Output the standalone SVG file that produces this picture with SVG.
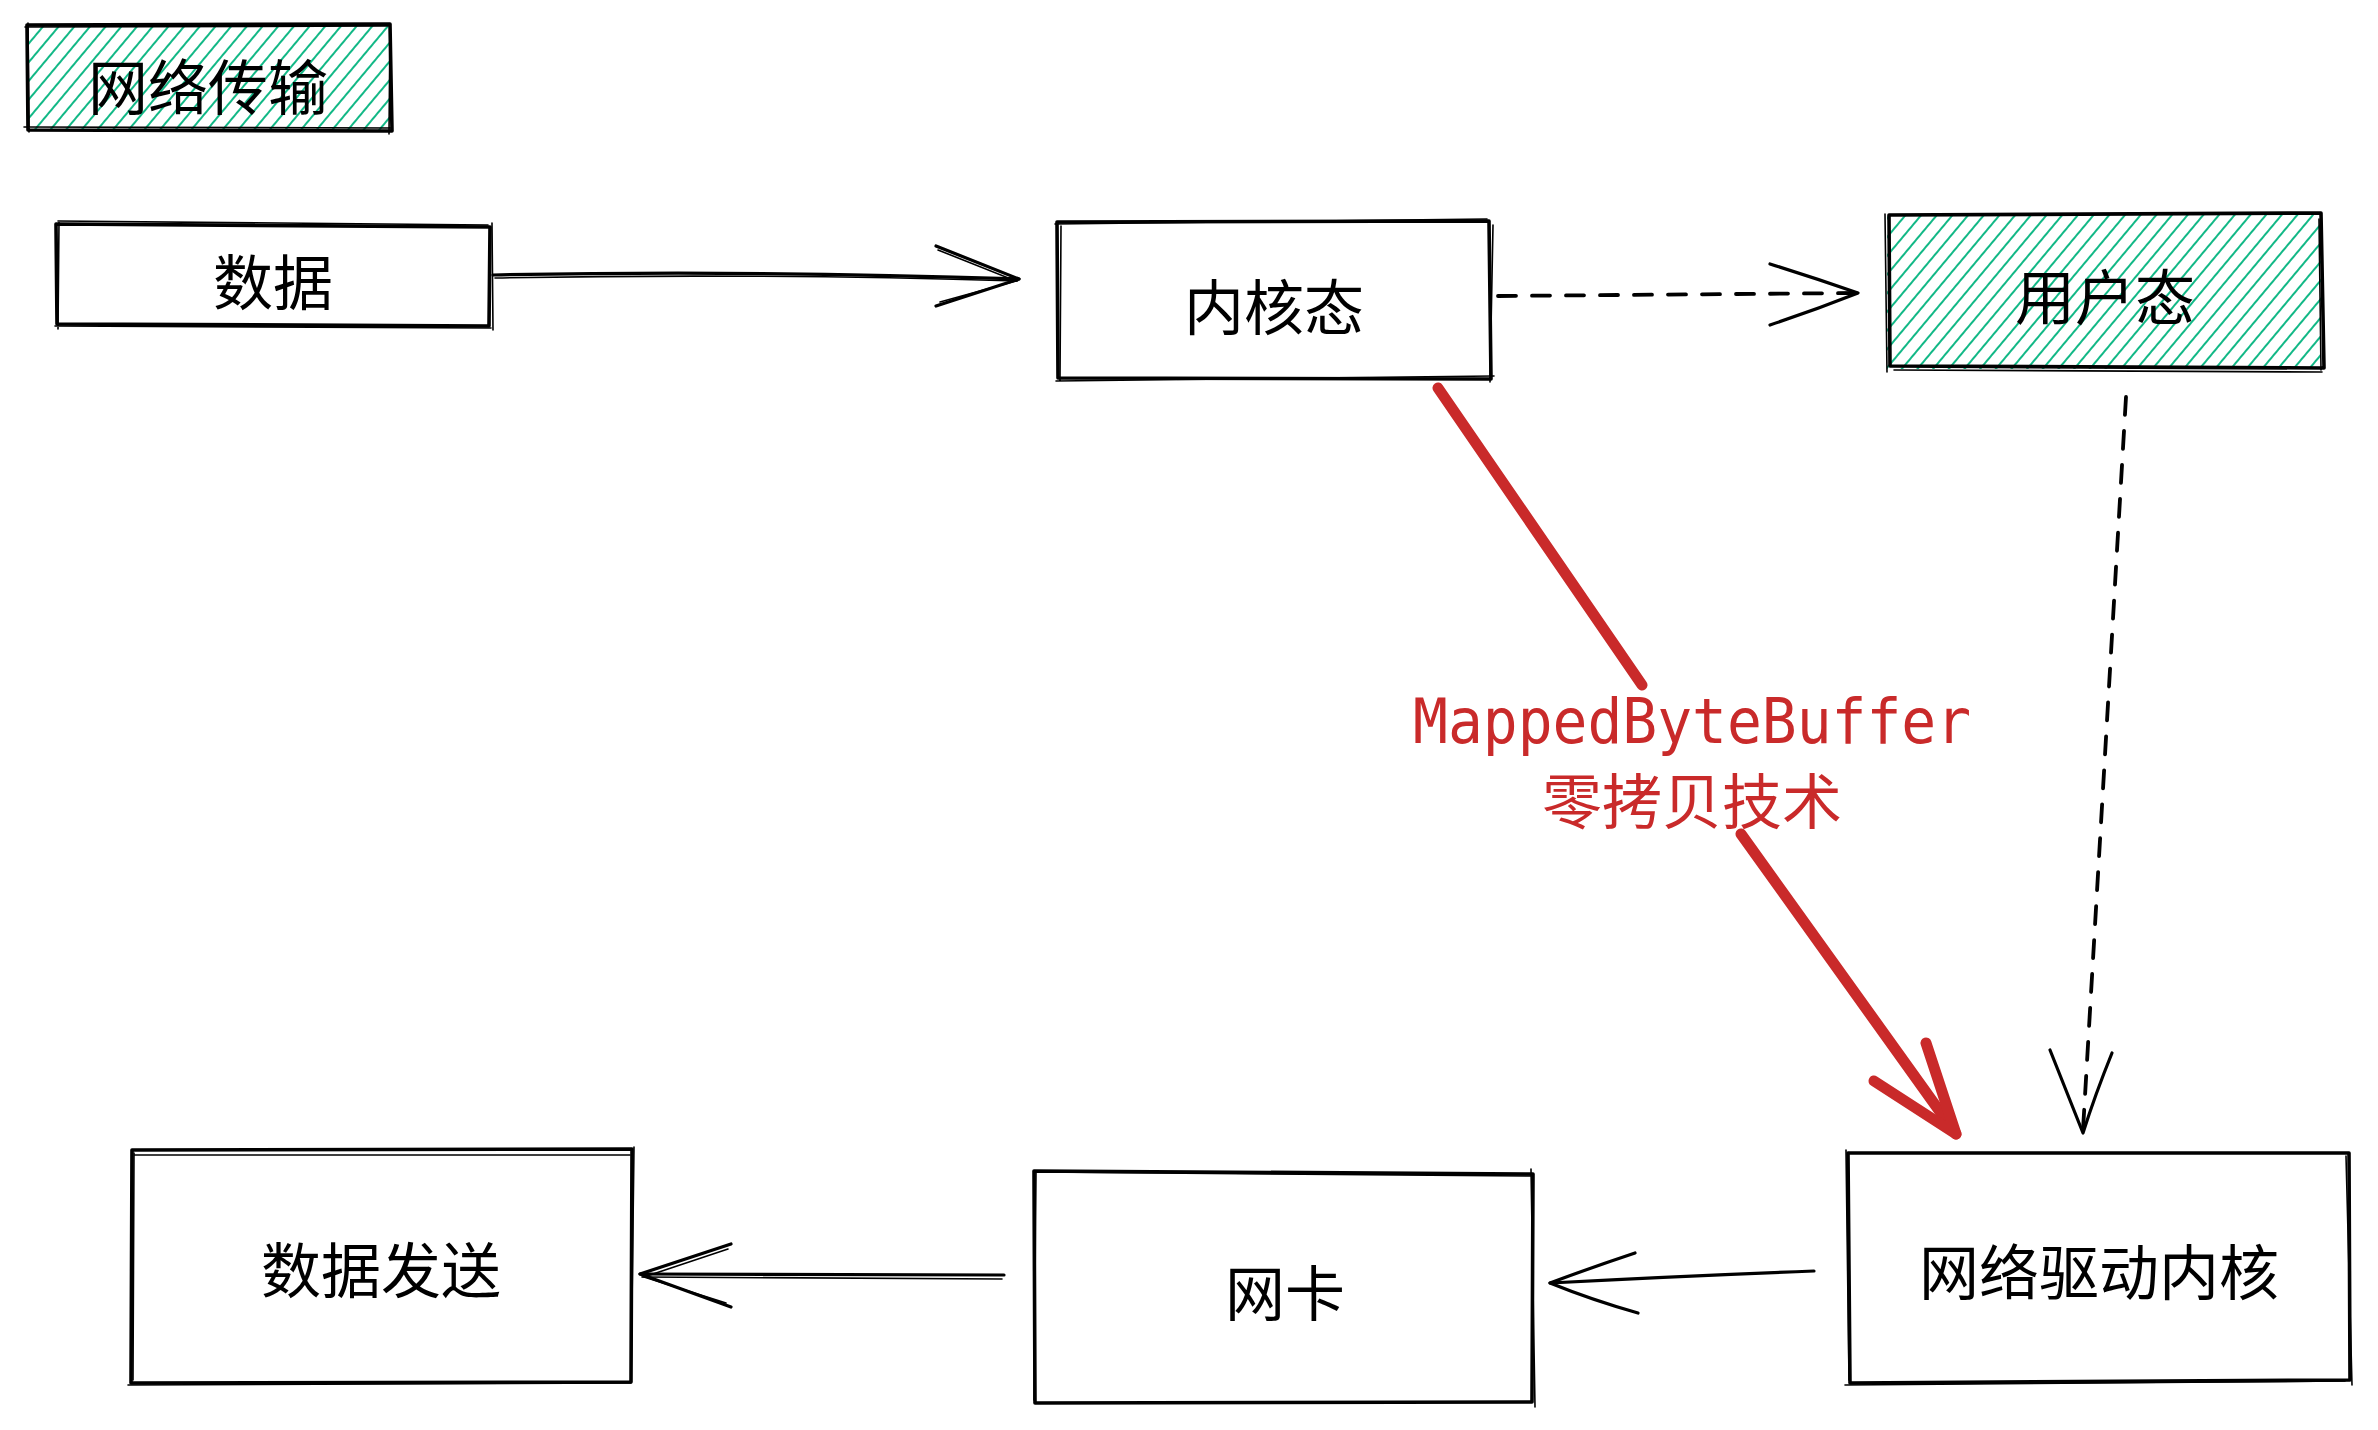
<svg xmlns="http://www.w3.org/2000/svg" width="2378" height="1430" viewBox="0 0 2378 1430">
<defs>
<pattern id="hatch" patternUnits="userSpaceOnUse" width="12" height="12" patternTransform="rotate(40)">
<line x1="2" y1="-2" x2="2" y2="14" stroke="#12b886" stroke-width="2"/>
</pattern>
<style>
.box{fill:none;stroke:#000;stroke-width:3.6;stroke-linecap:round;stroke-linejoin:round}
.box2{fill:none;stroke:#000;stroke-width:1.6;stroke-linecap:round}
.lbl{font-family:"Noto Sans CJK SC","Noto Sans",sans-serif;font-size:60px;fill:#000;text-anchor:middle;dominant-baseline:central}
.con{fill:none;stroke:#000;stroke-width:3.2;stroke-linecap:round;stroke-linejoin:round}
.dash{stroke-dasharray:18 16;stroke-width:3.8}
.red{fill:none;stroke:#c92a2a;stroke-width:11;stroke-linecap:round;stroke-linejoin:round}
.rlbl{fill:#c92a2a;text-anchor:middle}
</style>
</defs>
<rect width="2378" height="1430" fill="#fff"/>

<g id="title">
<rect x="27" y="25" width="363" height="105" fill="url(#hatch)"/>
<path class="box" d="M27,25 L390,24 L392,131 L28,130 Z"/>
<path class="box2" d="M25,27 L388,26 M390,28 L389,134 M392,128 L24,127 M29,132 L28,23"/>
<text class="lbl" x="208" y="83">网络传输</text>
</g>

<g id="data">
<path class="box" d="M56,224 L490,227 L489,326 L57,324 Z"/>
<path class="box2" d="M58,221 L488,225 M492,223 L493,330 M491,328 L55,326 M58,329 L59,222"/>
<text class="lbl" x="273" y="278">数据</text>
</g>

<g id="kernel">
<path class="box" d="M1057,222 L1489,221 L1491,379 L1058,378 Z"/>
<path class="box2" d="M1055,224 L1487,219 M1493,225 L1490,382 M1494,376 L1056,381 M1060,380 L1061,226"/>
<text class="lbl" x="1274" y="303">内核态</text>
</g>

<g id="user">
<rect x="1887" y="215" width="434" height="154" fill="url(#hatch)"/>
<path class="box" d="M1889,215 L2321,213 L2324,368 L1890,366 Z"/>
<path class="box2" d="M1885,214 L1887,372 M2319,219 L2321,370 M1894,370 L2322,372"/>
<text class="lbl" x="2105" y="293">用户态</text>
</g>

<g id="driver">
<path class="box" d="M1848,1153 L2349,1153 L2350,1380 L1850,1383 Z"/>
<path class="box2" d="M2346,1156 L2352,1385 M1845,1385 L2345,1381 M1846,1150 L1849,1380"/>
<text class="lbl" x="2099" y="1268">网络驱动内核</text>
</g>

<g id="send">
<path class="box" d="M132,1150 L632,1149 L631,1382 L131,1383 Z"/>
<path class="box2" d="M134,1155 L630,1155 M128,1385 L630,1383 M134,1153 L133,1380 M634,1147 L631,1383"/>
<text class="lbl" x="381" y="1266">数据发送</text>
</g>

<g id="nic">
<path class="box" d="M1034,1171 L1533,1174 L1532,1402 L1035,1403 Z"/>
<path class="box2" d="M1036,1173 L1034,1400 M1531,1169 L1535,1407 M1036,1172 L1530,1176"/>
<text class="lbl" x="1285" y="1289">网卡</text>
</g>

<g id="connectors">
<path class="con" d="M493,275 Q750,270 1019,279"/>
<path class="box2" d="M495,278 Q752,273 1017,281"/>
<path class="con" d="M936,246 L1019,279 L936,306"/>
<path class="box2" d="M938,250 L1016,281 L940,302"/>

<path class="con dash" d="M1498,296 L1858,293"/>
<path class="con" d="M1770,264 Q1815,278 1858,293 Q1815,310 1770,325"/>

<path class="con dash" d="M2126,397 L2083,1130"/>
<path class="con" d="M2050,1050 Q2070,1100 2083,1133 Q2095,1095 2112,1053"/>

<path class="red" d="M1438,388 L1642,685"/>
<path class="red" d="M1741,834 L1956,1134"/>
<path class="red" d="M1874,1081 L1956,1134 L1926,1043"/>

<path class="con" d="M1814,1271 Q1680,1276 1550,1283"/>
<path class="con" d="M1635,1253 Q1590,1268 1550,1283 Q1592,1300 1638,1313"/>

<path class="con" d="M1004,1275 L640,1274"/>
<path class="box2" d="M1002,1279 L642,1277"/>
<path class="con" d="M731,1244 L640,1274 L731,1307"/>
<path class="box2" d="M728,1249 L644,1277 L726,1303"/>

<text class="rlbl" x="1692" y="743" font-family="DejaVu Sans Mono, Liberation Mono, monospace" font-size="62" textLength="558" lengthAdjust="spacingAndGlyphs">MappedByteBuffer</text>
<text class="rlbl" x="1692" y="797" font-family="Noto Sans CJK SC, Noto Sans, sans-serif" font-size="60" dominant-baseline="central">零拷贝技术</text>
</g>
</svg>
